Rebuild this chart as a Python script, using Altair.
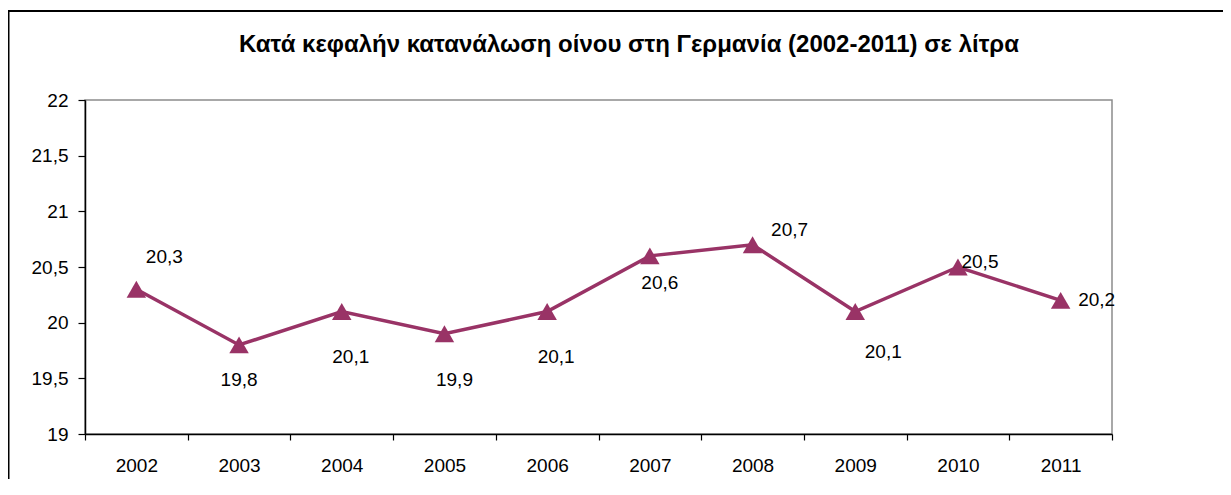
import altair as alt
import pandas as pd

# ---- data ----
years = ["2002", "2003", "2004", "2005", "2006", "2007", "2008", "2009", "2010", "2011"]
values = [20.3, 19.8, 20.1, 19.9, 20.1, 20.6, 20.7, 20.1, 20.5, 20.2]
y_ticks = [19, 19.5, 20, 20.5, 21, 21.5, 22]
title_text = "Κατά κεφαλήν κατανάλωση οίνου στη Γερμανία (2002-2011) σε λίτρα"

df = pd.DataFrame({"year": years, "value": values})
df["label"] = [f"{v:.1f}".replace(".", ",") for v in values]

FONT = "Liberation Sans"
COLOR = "#993366"
FS = 19

# label placement (pixel offsets from each point), as in the reference
label_offsets = {
    "2002": (28, -32), "2003": (0, 35), "2004": (9, 45), "2005": (10, 46),
    "2006": (9, 45), "2007": (10, 27), "2008": (37, -15), "2009": (28, 40),
    "2010": (22, -5), "2011": (36, 0),
}

x_enc = alt.X(
    "year:N",
    bandPosition=0.5,
    scale=alt.Scale(type="band", paddingInner=0, paddingOuter=0),
    axis=alt.Axis(
        title=None, labelAngle=0, tickBand="extent", grid=False,
        domainColor="black", domainWidth=1.5, tickColor="black", tickWidth=1.2,
        tickSize=6, labelPadding=16, labelFontSize=FS, labelFont=FONT,
        labelColor="black",
    ),
)
y_enc = alt.Y(
    "value:Q",
    scale=alt.Scale(domain=[19, 22], nice=False, zero=False),
    axis=alt.Axis(
        title=None, values=y_ticks, grid=False,
        labelExpr="replace(format(datum.value, '~g'), '.', ',')",
        domainColor="black", domainWidth=1.5, tickColor="black", tickWidth=1.2,
        tickSize=7, labelPadding=10, labelFontSize=FS, labelFont=FONT,
        labelColor="black",
    ),
)

base = alt.Chart(df)

line = base.mark_line(color=COLOR, strokeWidth=3.5).encode(x=x_enc, y=y_enc)
points = base.mark_point(
    shape="triangle-up", filled=True, size=380, color=COLOR, opacity=1
).encode(x=x_enc, y=y_enc)

texts = []
for yr, (dx, dy) in label_offsets.items():
    texts.append(
        base.transform_filter(alt.datum.year == yr)
        .mark_text(dx=dx, dy=dy, fontSize=FS, font=FONT, color="black",
                   align="center", baseline="middle")
        .encode(x=x_enc, y=y_enc, text="label:N")
    )

frame = alt.Chart(pd.DataFrame({"f": [0]})).mark_rect(
    fillOpacity=0, stroke="black", strokeWidth=2
).encode(
    x=alt.value(-76.5), x2=alt.value(1400), y=alt.value(-89), y2=alt.value(700)
)

title = alt.Chart(pd.DataFrame({"t": [title_text]})).mark_text(
    font=FONT, fontSize=24, fontWeight="bold", color="black",
    align="center", baseline="alphabetic"
).encode(text="t:N", x=alt.value(544), y=alt.value(-48))

chart = alt.layer(frame, line, points, *texts, title).properties(
    width=1027,
    height=334,
    autosize="none",
    padding={"left": 77, "top": 92, "right": 111, "bottom": 45},
).configure_view(stroke="#8c8c8c", strokeWidth=1.5)

chart.save("out.html", embed_options={"renderer": "svg", "actions": False})
